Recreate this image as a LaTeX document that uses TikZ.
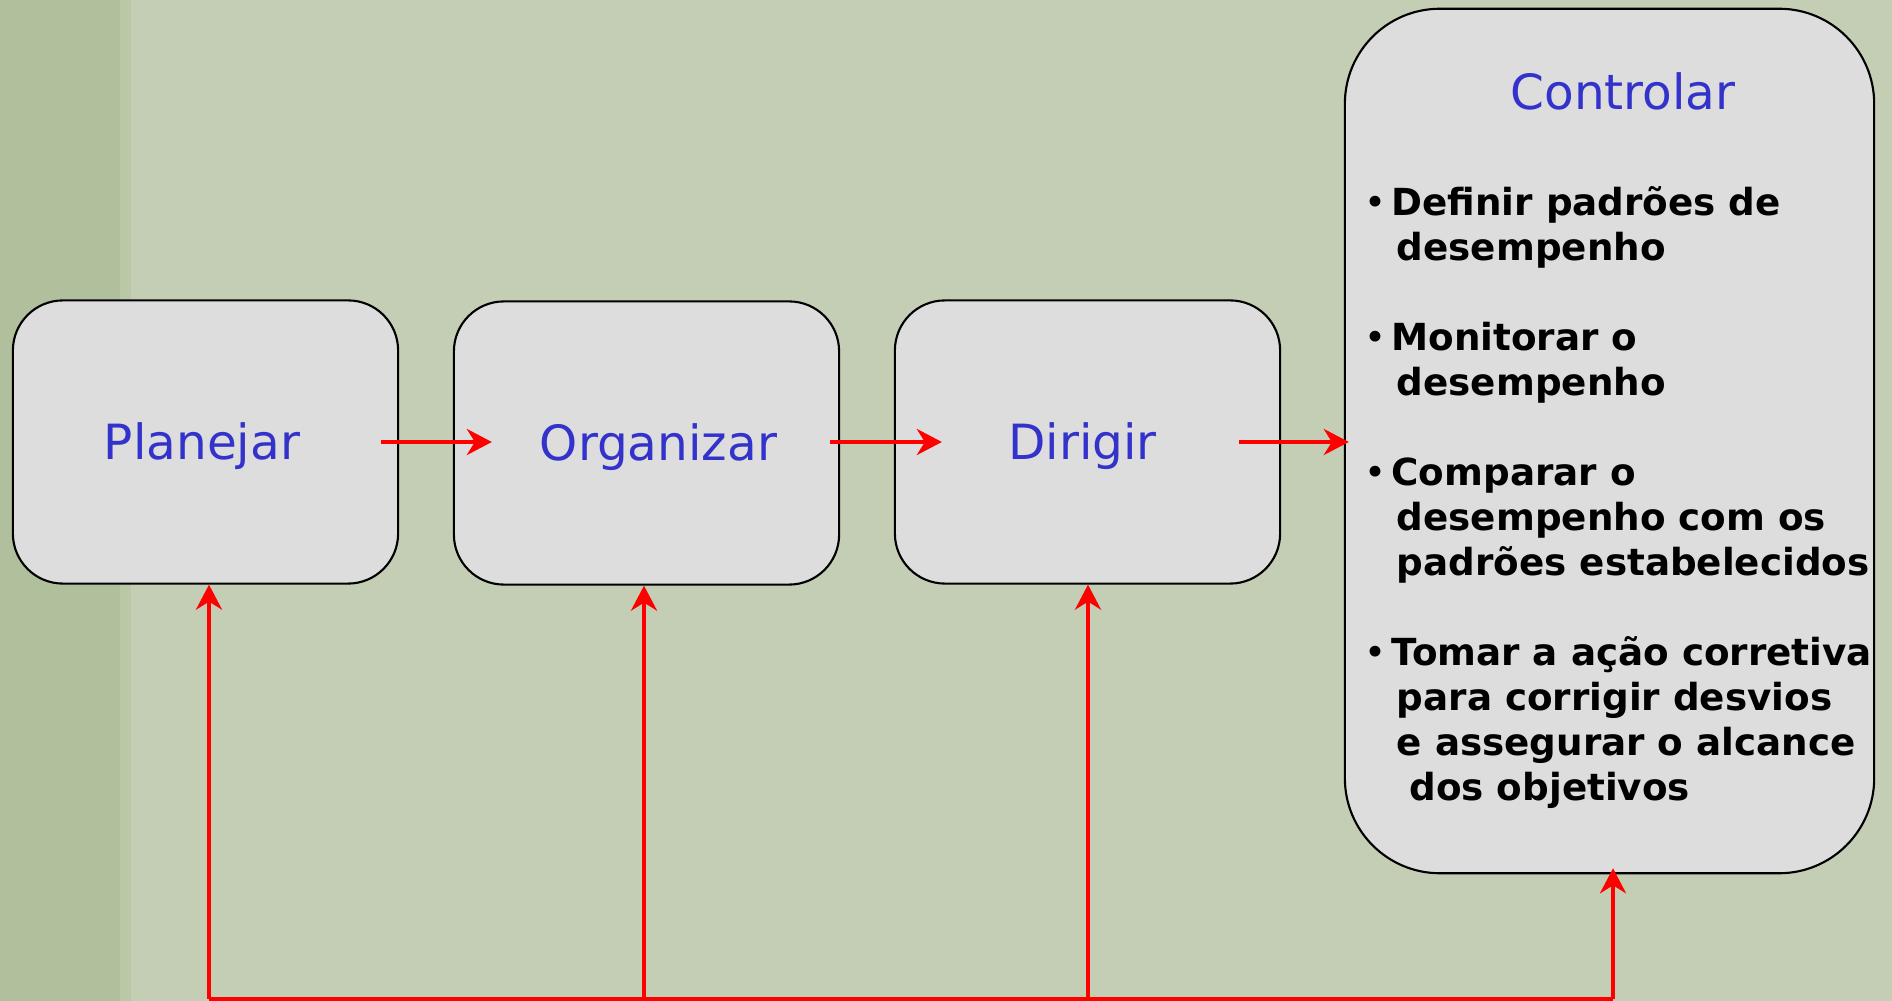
\documentclass[tikz,border=0pt]{standalone}
\usepackage{fontspec}
\setmainfont{DejaVu Sans}
\usetikzlibrary{arrows.meta}
\definecolor{bgback}{HTML}{C4CEB4}
\definecolor{bgstrip}{HTML}{B0C09C}
\definecolor{bgband}{HTML}{BAC8A8}
\definecolor{boxgray}{HTML}{DDDDDD}
\definecolor{labelblue}{HTML}{3333CC}
\newcommand{\bul}{\makebox[9.1pt][l]{\hspace*{1.4pt}\mdseries•}}
\newcommand{\ind}{\hspace*{10.6pt}}

\begin{document}
\begin{tikzpicture}[x=0.01cm, y=-0.01cm,
    box/.style={draw=black, line width=0.6pt, fill=boxgray, rounded corners=0.5cm,
      minimum width=3.85cm, minimum height=2.83cm, inner sep=0pt, text=labelblue,
      font=\fontsize{13.8}{16}\selectfont, text height=10.2pt, text depth=0pt},
    flow/.style={draw=red, line width=1.1pt, -{Stealth[length=0.25cm, width=0.26cm, inset=0.08cm]}},
    list/.style={inner sep=0pt, align=left, font=\fontsize{10.6}{12.8}\selectfont\bfseries}]
  % fundo
  \useasboundingbox (0,0) rectangle (1892,1001);
  \fill[bgback] (0,0) rectangle (1892,1001);
  \fill[bgband] (0,0) rectangle (131,1001);
  \fill[bgstrip] (0,0) rectangle (120,1001);

  % caixas
  \node[box] (n0) at (205.5,442) {Planejar\hspace*{2pt}};
  \node[box] (n1) at (646.5,443) {\hspace*{6.8pt}Organizar};
  \node[box] (n2) at (1087.5,442) {Dirigir\hspace*{2.8pt}};
  \node[box, rounded corners=0.95cm, minimum width=5.29cm, minimum height=8.64cm] (n3) at (1609.5,441) {};
  \node[text=labelblue, font=\fontsize{13.8}{16}\selectfont, anchor=base] (t3)
    at ([xshift=0.135cm, yshift=-1.02cm]n3.north) {Controlar};
  \node[list, anchor=north west] (l3) at ([xshift=0.15cm, yshift=-1.78cm]n3.north west) {%
    \bul Definir padrões de\\%
    \ind desempenho\\[12.8pt]%
    \bul Monitorar o\\%
    \ind desempenho\\[12.8pt]%
    \bul Comparar o\\%
    \ind desempenho com os\\%
    \ind padrões estabelecidos\\[12.8pt]%
    \bul Tomar a ação corretiva\\%
    \ind para corrigir desvios\\%
    \ind e assegurar o alcance\\%
    \hspace*{14.2pt}dos objetivos};

  % setas
  \draw[flow] ([xshift=-0.18cm]n0.east) -- ([xshift=0.39cm]n1.west |- n0.east);
  \draw[flow] ([xshift=-0.10cm]n1.east |- n0.east) -- ([xshift=0.48cm]n2.west);
  \draw[flow] ([xshift=-0.42cm]n2.east) -- ([xshift=0.05cm]n3.west |- n2.east);

  \coordinate (b0) at (209,999);
  \coordinate (b1) at (644,999);
  \coordinate (b2) at (1088,999);
  \coordinate (b3) at (1613,999);
  \draw[flow] (b0) -- (b0 |- n0.south);
  \draw[flow] (b1) -- (b1 |- n1.south);
  \draw[flow] (b2) -- (b2 |- n2.south);
  \draw[flow, shorten >=-0.06cm] (b3) -- (b3 |- n3.south);
  \draw[red, line width=1.1pt] (b0) -- (b3);
\end{tikzpicture}
\end{document}
